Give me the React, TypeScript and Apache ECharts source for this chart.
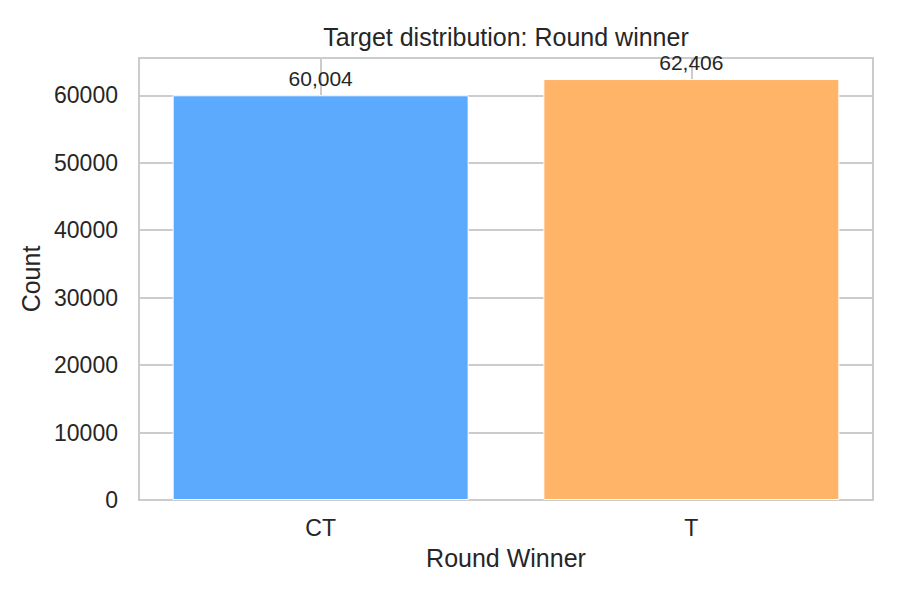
import React, { useEffect, useRef } from 'react';
import * as echarts from 'echarts';

const categories = ['CT', 'T'];
const counts = [60004, 62406];
const barColors = ['#5caafe', '#ffb468'];
const yTicks = [0, 10000, 20000, 30000, 40000, 50000, 60000];

const FONT = '"Liberation Sans", Arial, sans-serif';
const TEXT = '#262626';
const GRIDC = '#cccccc';

const App = () => {
  const chartRef = useRef(null);

  useEffect(() => {
    const chart = echarts.init(chartRef.current, null, { renderer: 'svg' });

    // matplotlib-like limits: bars width 0.8, 5% margins
    const xMin = -0.49;
    const xMax = categories.length - 1 + 0.49;
    const yMax = Math.max(...counts) * 1.05;

    const options = {
      animation: false,
      textStyle: { fontFamily: FONT, color: TEXT },
      graphic: [
        {
          type: 'text',
          x: 506,
          y: 37,
          style: {
            text: 'Target distribution: Round winner',
            font: `25px ${FONT}`,
            fill: TEXT,
            textAlign: 'center',
            textVerticalAlign: 'middle',
          },
        },
      ],
      grid: {
        left: 139,
        right: 27,
        top: 58,
        bottom: 100,
        show: true,
        borderColor: GRIDC,
        borderWidth: 2,
        backgroundColor: '#ffffff',
      },
      xAxis: {
        type: 'value',
        min: xMin,
        max: xMax,
        name: 'Round Winner',
        nameLocation: 'middle',
        nameGap: 45,
        nameTextStyle: { fontSize: 25, color: TEXT, fontFamily: FONT },
        axisLine: { show: false },
        axisTick: { show: false },
        splitLine: { show: false },
        axisLabel: {
          customValues: categories.map((_, i) => i),
          formatter: (v: number) => categories[Math.round(v)] ?? '',
          fontSize: 23,
          color: TEXT,
          fontFamily: FONT,
          margin: 16,
        },
      },
      yAxis: {
        type: 'value',
        min: 0,
        max: yMax,
        interval: 10000,
        name: 'Count',
        nameLocation: 'middle',
        nameGap: 93,
        nameTextStyle: { fontSize: 25, color: TEXT, fontFamily: FONT },
        axisLine: { show: false },
        axisTick: { show: false },
        splitLine: { show: true, lineStyle: { color: GRIDC, width: 2 } },
        axisLabel: {
          showMaxLabel: false,
          formatter: (v: number) => (yTicks.includes(v) ? String(v) : ''),
          fontSize: 23,
          color: TEXT,
          fontFamily: FONT,
          margin: 21,
        },
      },
      series: [
        {
          // vertical grid lines at the category ticks, behind the bars
          type: 'line',
          z: 1,
          data: [],
          silent: true,
          markLine: {
            z: 1,
            silent: true,
            symbol: ['none', 'none'],
            label: { show: false },
            lineStyle: { color: GRIDC, width: 2, type: 'solid' },
            data: categories.map((_, i) => ({ xAxis: i })),
          },
        },
        {
          type: 'bar',
          z: 3,
          barWidth: 296,
          data: counts.map((c, i) => ({
            value: [i, c],
            itemStyle: { color: barColors[i] },
          })),
          itemStyle: { borderColor: '#ffffff', borderWidth: 1 },
          label: {
            show: true,
            position: 'top',
            distance: 6,
            fontSize: 21,
            color: TEXT,
            fontFamily: FONT,
            formatter: (p: any) => p.value[1].toLocaleString('en-US'),
          },
        },
      ],
    };

    chart.setOption(options);

    const onResize = () => chart.resize();
    window.addEventListener('resize', onResize);

    return () => {
      window.removeEventListener('resize', onResize);
      chart.dispose();
    };
  }, []);

  return (
    <div
      ref={chartRef}
      style={{ position: 'absolute', left: 0, top: 0, width: '900px', height: '600px' }}
    ></div>
  );
};

export default App;
